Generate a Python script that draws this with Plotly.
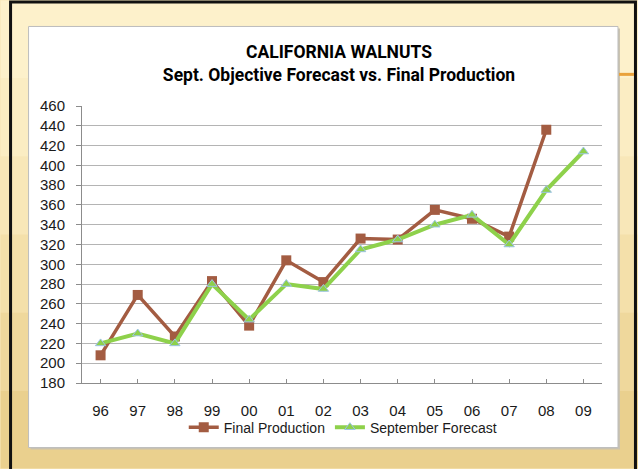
import plotly.graph_objects as go

# data
years = ["96", "97", "98", "99", "00", "01", "02", "03", "04", "05", "06", "07", "08", "09"]
final_production = [208, 269, 227, 283, 238, 304, 282, 326, 325, 355, 346, 328, 436, None]
sept_forecast = [220, 230, 220, 280, 244, 280, 275, 315, 325, 340, 350, 320, 375, 414]

# plot area in pixels (638x469 page)
L, R, T, B = 81.5, 602, 105.7, 383.3
W, H = R - L, B - T


def px(x):
    return (x - L) / W


def py(y):
    return (B - y) / H


fig = go.Figure()

fig.add_trace(go.Scatter(
    x=years, y=final_production, name="Final Production", mode="lines+markers",
    line=dict(color="#A35C42", width=3.5),
    marker=dict(symbol="square", size=10, color="#A35C42"),
))
fig.add_trace(go.Scatter(
    x=years, y=sept_forecast, name="September Forecast", mode="lines+markers",
    line=dict(color="#8ED14B", width=4),
    marker=dict(symbol="triangle-up", size=9, color="#8ED14B",
                line=dict(color="#9DC3E6", width=1)),
))

shapes = []
# slide background bands (light at top, darker toward the bottom)
bands = ["#FDF1CB", "#FBEDC3", "#F8E7B8", "#F4E0AA", "#EFD89C", "#EAD08E"]
for i, c in enumerate(bands):
    y0 = i * 469 / len(bands)
    y1 = (i + 1) * 469 / len(bands)
    shapes.append(dict(type="rect", xref="paper", yref="paper", layer="below",
                       x0=px(0), x1=px(638), y0=py(y1), y1=py(y0),
                       fillcolor=c, line=dict(width=0)))
# dark frame
shapes.append(dict(type="rect", xref="paper", yref="paper", layer="below",
                   x0=px(10), x1=px(635.5), y0=py(480), y1=py(1.5),
                   fillcolor="rgba(0,0,0,0)", line=dict(color="#111111", width=3)))
# white chart box with a soft shadow
shapes.append(dict(type="rect", xref="paper", yref="paper", layer="below",
                   x0=px(30), x1=px(620), y0=py(450), y1=py(28),
                   fillcolor="#C9C2B0", line=dict(width=0)))
shapes.append(dict(type="rect", xref="paper", yref="paper", layer="below",
                   x0=px(28), x1=px(618), y0=py(448), y1=py(26),
                   fillcolor="white", line=dict(color="#BDBDBD", width=1)))
# orange accent on the right
shapes.append(dict(type="line", xref="paper", yref="paper", layer="below",
                   x0=px(619), x1=px(634), y0=py(74), y1=py(74),
                   line=dict(color="#E9A23B", width=3)))

fig.update_layout(
    width=638, height=469,
    margin=dict(l=L, r=638 - R, t=T, b=469 - B, pad=0),
    paper_bgcolor="#F8E7B8",
    plot_bgcolor="white",
    shapes=shapes,
    title=dict(
        text="CALIFORNIA WALNUTS<br>Sept. Objective Forecast vs. Final Production",
        xref="container", x=339 / 638, xanchor="center",
        yref="container", y=1 - 58 / 469, yanchor="middle",
        font=dict(family="Roboto, Liberation Sans", size=17.5, color="black", weight="bold"),
    ),
    font=dict(family="Liberation Sans, Arial", size=15, color="#1A1A1A"),
    showlegend=True,
    legend=dict(orientation="h", x=px(343), xanchor="center", y=py(428), yanchor="middle",
                bgcolor="rgba(0,0,0,0)", font=dict(size=14), itemwidth=30,
                tracegroupgap=0),
)

fig.update_xaxes(
    type="category", showgrid=False, showline=True, linecolor="#8C8C8C", linewidth=1,
    ticks="inside", ticklen=4, tickcolor="#8C8C8C", ticklabelstandoff=14,
    range=[-0.5, 13.5], zeroline=False,
)
fig.update_yaxes(
    range=[180, 460], dtick=20, tick0=180, showgrid=True, gridcolor="#B4B4B4", gridwidth=1,
    showline=True, linecolor="#8C8C8C", linewidth=1, ticks="outside", ticklen=5,
    tickcolor="#8C8C8C", ticklabelstandoff=8, zeroline=False,
)

# page body has a default margin; drop it so the figure fills the window
fig.write_html("out.html", config={"displayModeBar": False},
               post_script="document.body.style.margin='0';")
